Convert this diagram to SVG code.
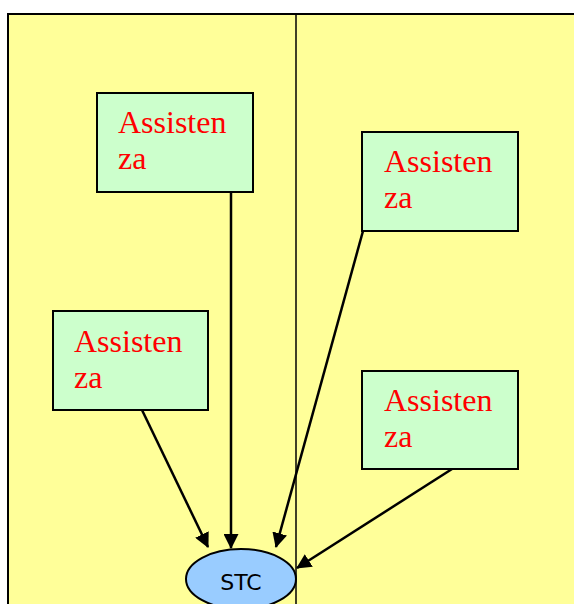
<svg xmlns="http://www.w3.org/2000/svg" width="574" height="604" viewBox="0 0 574 604">
<style>
.box{fill:#CCFFCC;stroke:#000;stroke-width:2}
.lbl{font-family:"Liberation Serif",serif;font-size:32px;fill:#FF0000}
.edge{stroke:#000;stroke-width:2.5;fill:none;marker-end:url(#ah)}
</style>
<defs>
<marker id="ah" viewBox="0 0 15 15" refX="14" refY="7.5" markerWidth="15" markerHeight="15" markerUnits="userSpaceOnUse" orient="auto">
<path d="M0,0 L15,7.5 L0,15 z" fill="#000"/>
</marker>
</defs>
<rect x="0" y="0" width="574" height="604" fill="#fff"/>
<g id="background">
<rect x="8" y="14" width="580" height="600" fill="#FFFF99" stroke="#000" stroke-width="2"/>
<line x1="296" y1="14" x2="296" y2="604" stroke="#000" stroke-width="1.5"/>
</g>
<g id="connectors">
<line class="edge" x1="231" y1="192" x2="231" y2="548"/>
<line class="edge" x1="142" y1="410" x2="208" y2="547"/>
<line class="edge" x1="363" y1="231" x2="276" y2="547"/>
<line class="edge" x1="452" y1="469" x2="297" y2="568"/>
</g>
<g id="n1"><rect class="box" x="97" y="93" width="156" height="99"/><text class="lbl" x="118" y="133">Assisten</text><text class="lbl" x="118" y="169">za</text></g>
<g id="n2"><rect class="box" x="53" y="311" width="155" height="99"/><text class="lbl" x="74" y="352">Assisten</text><text class="lbl" x="74" y="388">za</text></g>
<g id="n3"><rect class="box" x="362" y="132" width="156" height="99"/><text class="lbl" x="384" y="172">Assisten</text><text class="lbl" x="384" y="208">za</text></g>
<g id="n4"><rect class="box" x="362" y="371" width="156" height="98"/><text class="lbl" x="384" y="411">Assisten</text><text class="lbl" x="384" y="447">za</text></g>
<g id="stc"><ellipse cx="241" cy="579" rx="55" ry="30" fill="#99CCFF" stroke="#000" stroke-width="2"/><text x="241" y="590" text-anchor="middle" font-family="DejaVu Sans,Verdana,sans-serif" font-size="22" fill="#000">STC</text></g>
</svg>
